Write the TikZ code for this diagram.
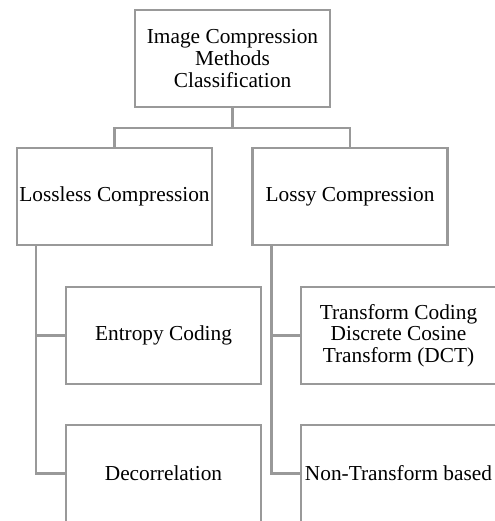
\documentclass[tikz,border=0pt]{standalone}
\usepackage{fontspec}
\setmainfont{Liberation Serif}
\usetikzlibrary{positioning}
\tikzset{
  box/.style={draw=black!40, line width=1.9pt, rectangle, minimum width=146pt,
    minimum height=72.5pt, inner sep=1pt, align=center,
    font=\fontsize{16}{16.3}\selectfont},
  link/.style={draw=black!40, line width=1.9pt}
}
\begin{document}
\begin{tikzpicture}[x=0.75pt,y=-0.75pt]
    \useasboundingbox (0,0) rectangle (495,521);
    % Akar
    \node[box] (root) at (232.5,58.5) {Image Compression\\Methods\\Classification};
    % Cabang
    \node[box] (lossless) at (114.5,196.5) {Lossless Compression};
    \node[box] (lossy) at (350,196.5) {Lossy Compression};
    \node[box] (entropy) at (163.5,335.5) {Entropy Coding};
    \node[box] (decor) at (163.5,473.5) {Decorrelation};
    \node[box] (transform) at (398.5,335.5) {Transform Coding\\Discrete Cosine\\Transform (DCT)};
    \node[box] (nontrans) at (398.5,473.5) {Non-Transform based};
    % Garis
    \draw[link] (root.south) -- ++(0,20) -| (lossless.north);
    \draw[link] (root.south) -- ++(0,20) -| (lossy.north);
    \draw[link] ([xshift=15pt]lossless.south west) |- (entropy.west);
    \draw[link] ([xshift=15pt]lossless.south west) |- (decor.west);
    \draw[link] ([xshift=15pt]lossy.south west) |- (transform.west);
    \draw[link] ([xshift=15pt]lossy.south west) |- (nontrans.west);
\end{tikzpicture}
\end{document}
